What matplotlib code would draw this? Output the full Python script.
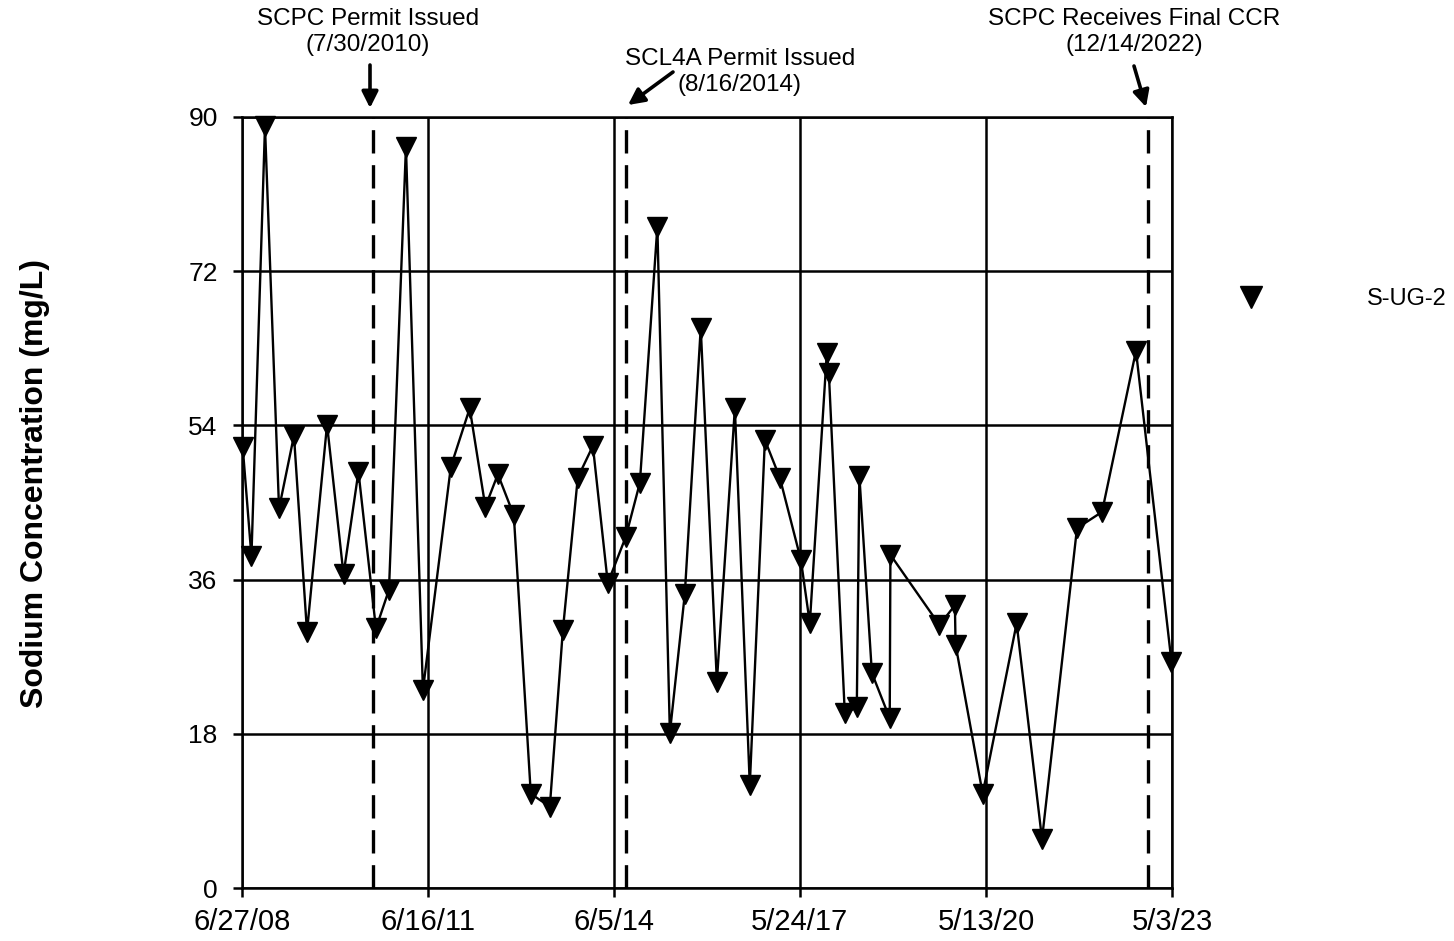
import numpy as np
import pandas as pd
import matplotlib
matplotlib.use('Agg')
import matplotlib.pyplot as plt
from matplotlib.lines import Line2D
from matplotlib.patches import FancyArrowPatch

plt.rcParams['font.family'] = ['Liberation Sans', 'DejaVu Sans']

# sampling dates and sodium results for S-UG-2
dates = ['2008-07-01', '2008-08-21', '2008-11-08', '2009-01-29', '2009-04-26',
         '2009-07-11', '2009-11-05', '2010-02-09', '2010-05-07', '2010-08-17',
         '2010-11-01', '2011-02-08', '2011-05-18', '2011-10-28', '2012-02-15',
         '2012-05-16', '2012-07-28', '2012-10-29', '2013-02-05', '2013-05-27',
         '2013-08-11', '2013-11-06', '2014-02-02', '2014-04-30', '2014-08-13',
         '2014-11-03', '2015-02-13', '2015-04-27', '2015-07-23', '2015-10-24',
         '2016-01-26', '2016-05-10', '2016-08-05', '2016-11-01', '2017-01-27',
         '2017-05-30', '2017-07-21', '2017-10-28', '2017-11-09', '2018-02-10',
         '2018-04-21', '2018-05-06', '2018-07-18', '2018-10-30', '2018-11-03',
         '2019-08-16', '2019-11-14', '2019-11-18', '2020-04-24', '2020-11-08',
         '2021-04-05', '2021-10-26', '2022-03-21', '2022-10-05', '2023-04-30']
sodium = [51.5, 38.7, 88.9, 44.3, 52.8, 29.9, 54.1, 36.6, 48.6, 30.3,
          34.8, 86.5, 23.1, 49.2, 56.0, 44.5, 48.3, 43.5, 11.0, 9.5,
          30.1, 47.9, 51.6, 35.6, 41.0, 47.3, 77.2, 18.1, 34.3, 65.4,
          24.1, 56.0, 12.0, 52.3, 47.9, 38.3, 30.9, 62.4, 60.1, 20.4,
          21.1, 48.1, 25.1, 19.8, 38.9, 30.7, 33.0, 28.4, 11.0, 30.9,
          5.7, 42.0, 43.9, 62.7, 26.4]

# x axis ticks
tick_dates = ['2008-06-27', '2011-06-16', '2014-06-05', '2017-05-24', '2020-05-13', '2023-05-03']
tick_labels = ['6/27/08', '6/16/11', '6/5/14', '5/24/17', '5/13/20', '5/3/23']
y_ticks = [0, 18, 36, 54, 72, 90]

# events marked by dashed lines
event_dates = ['2010-07-30', '2014-08-16', '2022-12-14']

x = pd.to_datetime(dates)
xt = pd.to_datetime(tick_dates)
xe = pd.to_datetime(event_dates)

fig = plt.figure(figsize=(14.54, 9.41), dpi=100)
ax = fig.add_axes([242/1454, 1-888/941, (1172-242)/1454, (888-117)/941])

ax.set_xlim(xt[0], xt[-1])
ax.set_ylim(0, 90)
ax.set_xticks(xt)
ax.set_xticklabels(tick_labels, fontsize=21)
ax.set_yticks(y_ticks)
ax.set_yticklabels([str(v) for v in y_ticks], fontsize=19)
ax.tick_params(direction='out', length=6.5, width=1.8, color='black')
ax.tick_params(axis='x', pad=8)
ax.tick_params(axis='y', pad=11)
ax.grid(True, color='black', lw=1.8)
for s in ax.spines.values():
    s.set_linewidth(1.8)
    s.set_color('black')

for d in xe:
    ax.axvline(d, color='black', lw=2.4, dashes=(7, 3.5), zorder=2)

ax.plot(x, sodium, color='black', lw=1.7, marker='v', ms=14, mfc='black',
        mec='black', zorder=3, clip_on=False)


def fx(px):
    return px/1454


def fy(py):
    return 1 - py/941


fig.text(fx(35), fy(483), 'Sodium Concentration (mg/L)', rotation=90, ha='center',
         va='center', fontsize=23, fontweight='bold')

# legend
h = Line2D([], [], color='black', marker='v', ms=16, ls='none')
fig.legend([h], ['S-UG-2'], loc='center left', bbox_to_anchor=(fx(1239), fy(299)),
           frameon=False, fontsize=17, handletextpad=4.42, handlelength=1.0,
           borderpad=0, borderaxespad=0)

# annotations
fig.text(fx(368), fy(32), 'SCPC Permit Issued\n(7/30/2010)', ha='center', va='center',
         fontsize=17.5)
fig.text(fx(740), fy(72), 'SCL4A Permit Issued\n(8/16/2014)', ha='center', va='center',
         fontsize=17.5)
fig.text(fx(1134), fy(32), 'SCPC Receives Final CCR\n(12/14/2022)', ha='center', va='center',
         fontsize=17.5)

arrow = dict(arrowstyle='-|>,head_length=0.7,head_width=0.35', lw=2.6, color='black',
             shrinkA=0, shrinkB=0)
for tail, tip in [((370, 65), (370, 108)), ((673, 72), (628, 105)), ((1134, 66), (1146, 107))]:
    fig.add_artist(FancyArrowPatch((fx(tail[0]), fy(tail[1])), (fx(tip[0]), fy(tip[1])),
                                   transform=fig.transFigure, mutation_scale=14, **arrow))

fig.savefig('out.png', dpi=100)
